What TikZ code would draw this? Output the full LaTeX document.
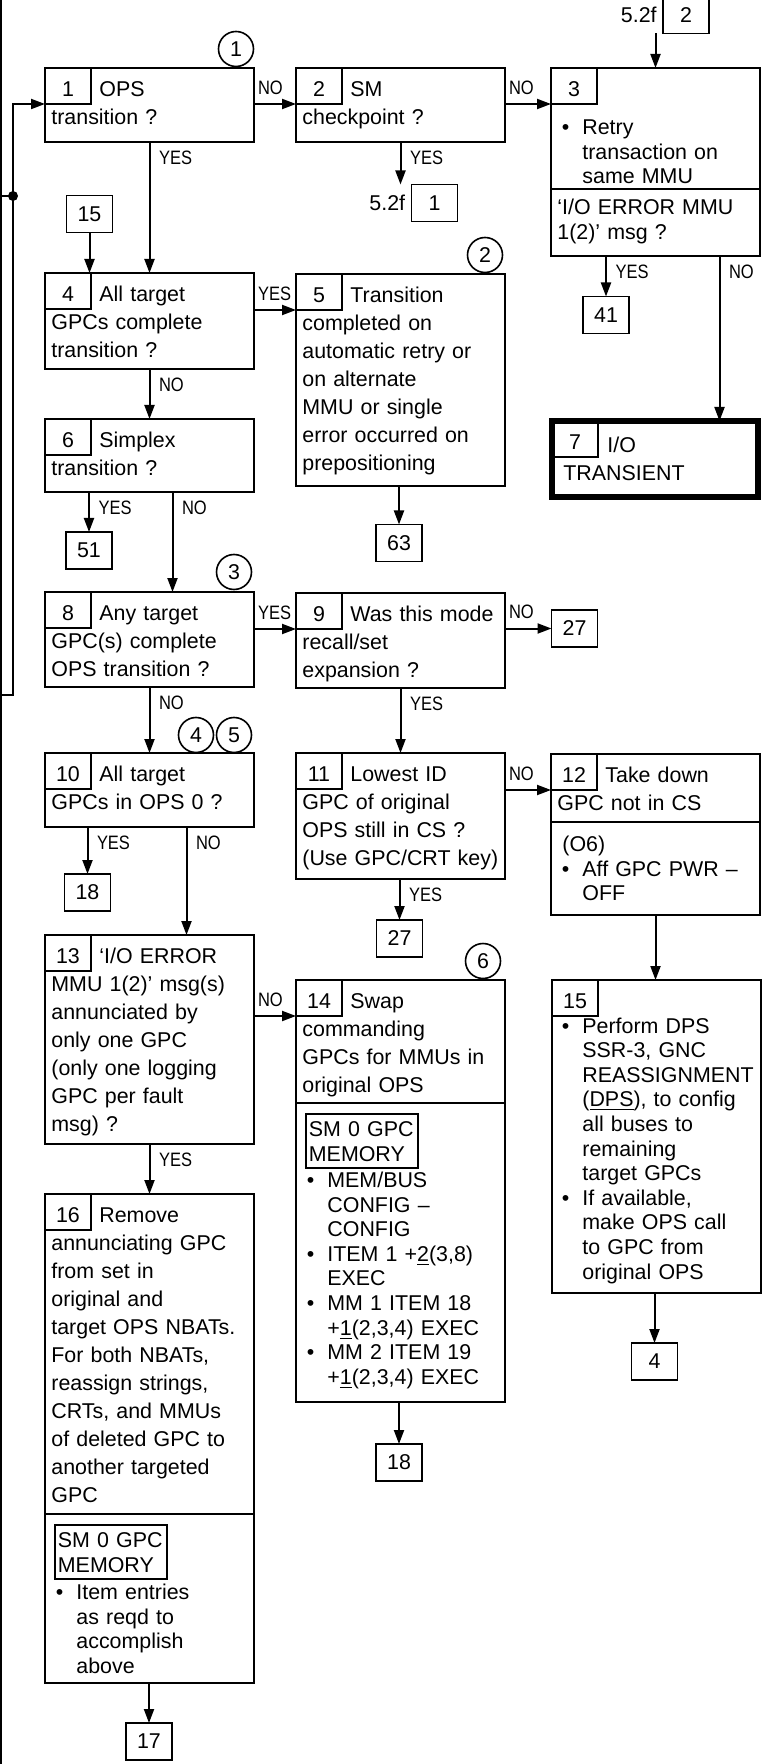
\documentclass[tikz,border=0pt]{standalone}
\usepackage{fontspec}
\setmainfont{Liberation Sans}
\newfontfamily\narrowfont{Liberation Sans}[FakeStretch=0.85]
\usetikzlibrary{positioning, arrows.meta}
\newcommand{\qfont}{\fontsize{10.7pt}{14pt}\selectfont}
\newcommand{\lfont}{\fontsize{10.7pt}{12.3pt}\selectfont}
\newcommand{\ynfont}{\narrowfont\fontsize{9.7pt}{11pt}\selectfont}
\newcommand{\bulletmark}{\leavevmode\llap{\textbullet\hspace{6.5pt}}}

\begin{document}
\begin{tikzpicture}[x=0.5pt, y=-0.5pt,
  every node/.style={font=\qfont},
  box/.style={draw, line width=1.4pt, inner sep=0pt, outer sep=0pt,
              anchor=north west, minimum width=104.5pt},
  bigbox/.style={box, line width=2.6pt, minimum width=103pt},
  num/.style={draw, line width=0.8pt, inner sep=0pt, outer sep=0pt,
              anchor=north west, minimum width=23pt, minimum height=18pt,
              text height=10.7pt, text depth=0pt},
  ref/.style={draw, line width=0.9pt, inner sep=0pt, outer sep=0pt,
              minimum width=23pt, minimum height=18.5pt},
  circ/.style={draw, circle, line width=0.8pt, inner sep=0pt, minimum size=17.5pt},
  qtxt/.style={anchor=base west, inner sep=0pt, text width=112pt, align=left},
  ltxt/.style={qtxt, font=\lfont},
  memo/.style={draw, line width=0.9pt, anchor=north west, text width=53pt,
               align=left, inner xsep=1.5pt, inner ysep=3.5pt,
               text height=7.8pt, font=\lfont},
  sep/.style={line width=1.4pt},
  wire/.style={line width=1pt},
  arr/.style={wire, -{Triangle[length=7pt, width=5pt]}},
  yn/.style={font=\ynfont, inner sep=0pt, pos=0, anchor=west},
  vyn/.style={yn, xshift=4.25pt, yshift=-8pt},
  hyn/.style={yn, xshift=1.5pt, yshift=8.25pt}]
\useasboundingbox (0,0) rectangle (764,1764);

% left return lines
\coordinate (otop) at (1,0);
\coordinate (obot) at (1,1764);
\coordinate (jn) at (13,196);
\coordinate (lb) at (13,695);

% row 1
\node[box, minimum height=37pt] (b1) at (45,68) {};
\node[num] (n1) at (b1.north west) {1};
\node[qtxt] (t1) at (51,96.5) {\hspace*{24pt}OPS\\transition ?};
\node[circ] (c1) at (236,49) {1};

\node[box, minimum height=37pt] (b2) at (296,68) {};
\node[num] (n2) at (b2.north west) {2};
\node[qtxt] (t2) at (302,96.5) {\hspace*{24pt}SM\\checkpoint ?};
\node[ref] (r1) at (434.5,203) {1};
\node[inner sep=0pt, left=3pt of r1] (r1l) {5.2f};

\node[box, minimum height=94pt] (b3) at (551,68) {};
\node[num] (n3) at (b3.north west) {3};
\node[ltxt] (l3) at (582,134.5) {\bulletmark Retry\\transaction on\\same MMU};
\draw[sep] ([yshift=-60.5pt]b3.north west) -- ([yshift=-60.5pt]b3.north east);
\node[ltxt] (q3) at (557,214.5) {‘I/O ERROR MMU\\1(2)’ msg ?};
\node[ref] (r2) at (686,15) {2};
\node[inner sep=0pt, left=3pt of r2] (r2l) {5.2f};
\node[ref] (r41) at (606,315) {41};

\node[bigbox, minimum height=38pt] (b7) at (552,421) {};
\node[num] (n7) at (b7.north west) {7};
\node[qtxt] (t7) at (563,452.5) {\hspace*{22pt}I/O\\TRANSIENT};

% row 2
\node[ref] (r15) at (89.5,214) {15};
\node[box, minimum height=48pt] (b4) at (45,273) {};
\node[num] (n4) at (b4.north west) {4};
\node[qtxt] (t4) at (51,301.5) {\hspace*{24pt}All target\\GPCs complete\\transition ?};

\node[box, minimum height=106pt] (b5) at (296,274) {};
\node[num] (n5) at (b5.north west) {5};
\node[qtxt] (t5) at (302,302.5) {\hspace*{24pt}Transition\\completed on\\automatic retry or\\on alternate\\MMU or single\\error occurred on\\prepositioning};
\node[circ] (c2) at (485,255) {2};
\node[ref] (r63) at (399,543) {63};

\node[box, minimum height=36.5pt] (b6) at (45,419) {};
\node[num] (n6) at (b6.north west) {6};
\node[qtxt] (t6) at (51,447.5) {\hspace*{24pt}Simplex\\transition ?};
\node[ref] (r51) at (89,550.5) {51};

% row 3
\node[circ] (c3) at (234,572) {3};
\node[box, minimum height=47.5pt] (b8) at (45,592) {};
\node[num] (n8) at (b8.north west) {8};
\node[qtxt] (t8) at (51,620.5) {\hspace*{24pt}Any target\\GPC(s) complete\\OPS transition ?};

\node[box, minimum height=47.5pt] (b9) at (296,593) {};
\node[num] (n9) at (b9.north west) {9};
\node[qtxt] (t9) at (302,621.5) {\hspace*{24pt}Was this mode\\recall/set\\expansion ?};
\node[ref] (r27a) at (574.5,628.5) {27};

% row 4
\node[circ] (c4) at (196,735) {4};
\node[circ] (c5) at (234,735) {5};
\node[box, minimum height=37pt] (b10) at (45,753) {};
\node[num] (n10) at (b10.north west) {10};
\node[qtxt] (t10) at (51,781.5) {\hspace*{24pt}All target\\GPCs in OPS 0 ?};
\node[ref] (r18a) at (87.5,892.5) {18};

\node[box, minimum height=63pt] (b11) at (296,753) {};
\node[num] (n11) at (b11.north west) {11};
\node[qtxt] (t11) at (302,781.5) {\hspace*{24pt}Lowest ID\\GPC of original\\OPS still in CS ?\\(Use GPC/CRT key)};
\node[ref] (r27b) at (399.5,938.5) {27};

\node[box, minimum height=80.5pt] (b12) at (551,754) {};
\node[num] (n12) at (b12.north west) {12};
\node[qtxt] (t12) at (557,782.5) {\hspace*{24pt}Take down\\GPC not in CS};
\draw[sep] ([yshift=-34pt]b12.north west) -- ([yshift=-34pt]b12.north east);
\node[ltxt] (l12) at (562,851.5) {(O6)\\\hspace*{10pt}\bulletmark Aff GPC PWR –\\\hspace*{10pt}OFF};

% row 5
\node[box, minimum height=104.5pt] (b13) at (45,935) {};
\node[num] (n13) at (b13.north west) {13};
\node[qtxt] (t13) at (51,963.5) {\hspace*{24pt}‘I/O ERROR\\MMU 1(2)’ msg(s)\\annunciated by\\only one GPC\\(only one logging\\GPC per fault\\msg) ?};

\node[circ] (c6) at (483,961) {6};
\node[box, minimum height=211pt] (b14) at (296,980) {};
\node[num] (n14) at (b14.north west) {14};
\node[qtxt] (t14) at (302,1008.5) {\hspace*{24pt}Swap\\commanding\\GPCs for MMUs in\\original OPS};
\draw[sep] ([yshift=-61.5pt]b14.north west) -- ([yshift=-61.5pt]b14.north east);
\node[memo] (m14) at (305,1113) {SM 0 GPC\\MEMORY};
\node[ltxt] (l14) at (327,1187.5) {\bulletmark MEM/BUS\\CONFIG –\\CONFIG\\\bulletmark ITEM 1 +\underline{2}(3,8)\\EXEC\\\bulletmark MM 1 ITEM 18\\+\underline{1}(2,3,4) EXEC\\\bulletmark MM 2 ITEM 19\\+\underline{1}(2,3,4) EXEC};
\node[ref] (r18b) at (399,1462.5) {18};

\node[box, minimum height=156.5pt] (b15) at (552,980) {};
\node[num] (n15) at (b15.north west) {15};
\node[ltxt] (l15) at (582,1033) {\bulletmark Perform DPS\\SSR-3, GNC\\REASSIGNMENT\\(\underline{DPS}), to config\\all buses to\\remaining\\target GPCs\\\bulletmark If available,\\make OPS call\\to GPC from\\original OPS};
\node[ref] (r4) at (654.5,1361.5) {4};

% row 6
\node[box, minimum height=244.5pt] (b16) at (45,1194) {};
\node[num] (n16) at (b16.north west) {16};
\node[qtxt] (t16) at (51,1222.5) {\hspace*{24pt}Remove\\annunciating GPC\\from set in\\original and\\target OPS NBATs.\\For both NBATs,\\reassign strings,\\CRTs, and MMUs\\of deleted GPC to\\another targeted\\GPC};
\draw[sep] ([yshift=-160pt]b16.north west) -- ([yshift=-160pt]b16.north east);
\node[memo] (m16) at (54,1524) {SM 0 GPC\\MEMORY};
\node[ltxt] (l16) at (76,1599.5) {\bulletmark Item entries\\as reqd to\\accomplish\\above};
\node[ref] (r17) at (149,1741.5) {17};

% connectors
\draw[wire] (otop) -- (obot);
\draw[wire] (otop |- jn) -- (jn);
\fill (jn) circle (2.5pt);
\draw[arr] (obot |- lb) -- (lb) -- (lb |- n1.south west) -- (n1.south west);

\draw[arr] (b1.east |- n2.south west) -- node[hyn] (no1) {NO} (n2.south west);
\draw[arr] (b2.east |- n3.south west) -- node[hyn] (no2) {NO} (n3.south west);
\draw[arr] (b1.south) -- node[vyn] (yes1) {YES} (b1.south |- b4.north);
\draw[arr] (b2.south) -- node[vyn] (yes2) {YES} (b2.south |- r1.north);
\draw[arr] (b3.north |- r2.south) -- (b3.north);
\draw[arr] (r41 |- b3.south) -- node[vyn] (yes3) {YES} (r41.north);
\draw[arr] ([xshift=32pt]b3.south) -- node[vyn] (no3) {NO} ([xshift=32pt]b3.south |- b7.north);

\draw[arr] (r15.south) -- (r15.south |- b4.north);
\draw[arr] (b4.east |- n5.south west) -- node[hyn] (yes4) {YES} (n5.south west);
\draw[arr] (b4.south) -- node[vyn] (no4) {NO} (b4.south |- b6.north);
\draw[arr] (r63 |- b5.south) -- (r63.north);
\draw[arr] (r51 |- b6.south) -- node[vyn] (yes6) {YES} (r51.north);
\draw[arr] ([xshift=11.5pt]b6.south) -- node[vyn] (no6) {NO} ([xshift=11.5pt]b6.south |- b8.north);

\draw[arr] (b8.east |- n9.south west) -- node[hyn] (yes8) {YES} (n9.south west);
\draw[arr] (b9.east |- r27a.west) -- node[hyn] (no9) {NO} (r27a.west);
\draw[arr] (b8.south) -- node[vyn] (no8) {NO} (b8.south |- b10.north);
\draw[arr] (b9.south) -- node[vyn] (yes9) {YES} (b9.south |- b11.north);

\draw[arr] (r18a |- b10.south) -- node[vyn] (yes10) {YES} (r18a.north);
\draw[arr] ([xshift=18.5pt]b10.south) -- node[vyn] (no10) {NO} ([xshift=18.5pt]b10.south |- b13.north);
\draw[arr] (b11.east |- n12.south west) -- node[hyn] (no11) {NO} (n12.south west);
\draw[arr] (r27b |- b11.south) -- node[vyn] (yes11) {YES} (r27b.north);
\draw[arr] (b12.south) -- (b12.south |- b15.north);

\draw[arr] (b13.east |- n14.south west) -- node[hyn] (no13) {NO} (n14.south west);
\draw[arr] (b13.south) -- node[vyn] (yes13) {YES} (b13.south |- b16.north);
\draw[arr] (r18b |- b14.south) -- (r18b.north);
\draw[arr] (r4 |- b15.south) -- (r4.north);
\draw[arr] (r17 |- b16.south) -- (r17.north);
\end{tikzpicture}
\end{document}
